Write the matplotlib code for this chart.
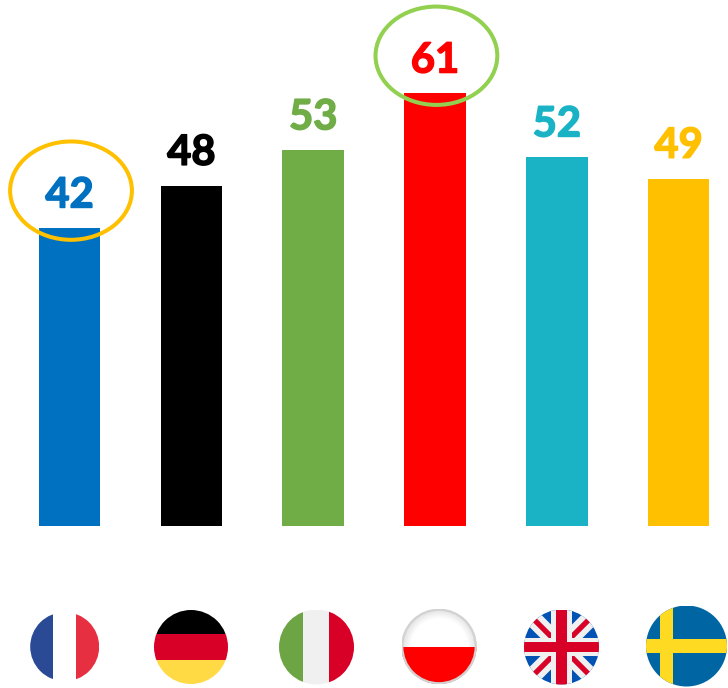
import numpy as np
import matplotlib
matplotlib.use("Agg")
import matplotlib.pyplot as plt
import matplotlib.patheffects as pe
from matplotlib.patches import Circle, Ellipse, Rectangle, Polygon

countries = ["France", "Germany", "Italy", "Poland", "UK", "Sweden"]
values = [42, 48, 53, 61, 52, 49]
bar_colors = ["#0070C0", "#000000", "#70AD47", "#FF0000", "#19B3C5", "#FFC000"]
circled = {"France": "#FFC000", "Poland": "#92D050"}

W, H = 728, 688

fig = plt.figure(figsize=(W / 100, H / 100), dpi=100, facecolor="white")
ax = fig.add_axes([0, 0, 1, 1])
x = np.arange(len(values))
ax.bar(x, values, width=0.505, color=bar_colors)
ax.set_xlim(-0.571, 5.406)
ax.set_ylim(-22.75, 74.15)
ax.axis("off")

for i, v in enumerate(values):
    t = ax.annotate(str(v), (i, v), xytext=(0, 15), textcoords="offset points",
                    ha="center", va="baseline", color=bar_colors[i],
                    fontsize=30, fontweight="bold", family="Lato")
    # Lato bold is lighter than the original face
    t.set_path_effects([pe.withStroke(linewidth=1.1, foreground=bar_colors[i])])
    if countries[i] in circled:
        ax.add_patch(Ellipse((i + 0.012, v + 5.3), 1.0, 13.85, fill=False,
                             edgecolor=circled[countries[i]], linewidth=2.9))


# flag axes, placed in pixels
def flag_axes(cx, cy, r):
    a = fig.add_axes([(cx - r) / W, 1 - (cy + r) / H, 2 * r / W, 2 * r / H])
    a.set_xlim(-1, 1)
    a.set_ylim(-1, 1)
    a.axis("off")
    a.patch.set_alpha(0)
    return a


def clip(a, artists):
    c = Circle((0, 0), 1, transform=a.transData)
    for art in artists:
        art.set_clip_path(c)


def rect(a, x0, y0, x1, y1, color):
    return a.add_patch(Rectangle((x0, y0), x1 - x0, y1 - y0, color=color, lw=0))


# France
a = flag_axes(64.7, 646.7, 34.5)
clip(a, [rect(a, -1, -1, -0.33, 1, "#2B4A96"),
         rect(a, 0.34, -1, 1, 1, "#E63042")])

# Germany
a = flag_axes(191, 647, 37)
clip(a, [rect(a, -1, 0.36, 1, 1, "#000000"),
         rect(a, -1, -0.36, 1, 0.36, "#D80027"),
         rect(a, -1, -1, 1, -0.36, "#FFDA44")])

# Italy
a = flag_axes(316.5, 647, 37.5)
clip(a, [rect(a, -1, -1, -0.35, 1, "#6DA544"),
         rect(a, -0.35, -1, 0.34, 1, "#F0F0F0"),
         rect(a, 0.34, -1, 1, 1, "#D80027")])

# Poland, white half has a soft shaded rim
a = flag_axes(439, 646.5, 37.5)
gx, gy = np.meshgrid(np.linspace(-1, 1, 150), np.linspace(1, -1, 150))
shade = 1 - 0.12 * np.clip(np.hypot(gx, gy) - 0.75, 0, 1) / 0.25
im = a.imshow(shade, extent=(-1, 1, -1, 1), cmap="gray", vmin=0, vmax=1, aspect="auto")
clip(a, [im, rect(a, -1, -1, 1, -0.01, "#FF0000")])
a.add_patch(Circle((0, 0), 0.98, fill=False, edgecolor="#D2D2D2", linewidth=1.6))

# UK
a = flag_axes(561.5, 647, 37.5)
parts = [rect(a, -1, -1, 1, 1, "#0052B4")]
for s in (1, -1):
    d = 0.16
    parts.append(a.add_patch(Polygon([(-1 - d, -1 * s + d * s), (-1 + d, -1 * s - d * s),
                                      (1 + d, 1 * s - d * s), (1 - d, 1 * s + d * s)],
                                     color="#F0F0F0", lw=0)))
    d = 0.05
    parts.append(a.add_patch(Polygon([(-0.76 - d, -0.76 * s + d * s), (-0.76 + d, -0.76 * s - d * s),
                                      (0.76 + d, 0.76 * s - d * s), (0.76 - d, 0.76 * s + d * s)],
                                     color="#D80027", lw=0)))
parts += [rect(a, -0.27, -1, 0.27, 1, "#F0F0F0"), rect(a, -1, -0.25, 1, 0.25, "#F0F0F0"),
          rect(a, -0.14, -1, 0.14, 1, "#D80027"), rect(a, -1, -0.13, 1, 0.13, "#D80027")]
clip(a, parts)

# Sweden
a = flag_axes(686.5, 646, 40.5)
clip(a, [rect(a, -1, -1, 1, 1, "#0066A3"),
         rect(a, -0.65, -1, -0.33, 1, "#FFDA22"),
         rect(a, -1, -0.17, 1, 0.17, "#FFDA22")])

fig.savefig("out.png", dpi=100)
